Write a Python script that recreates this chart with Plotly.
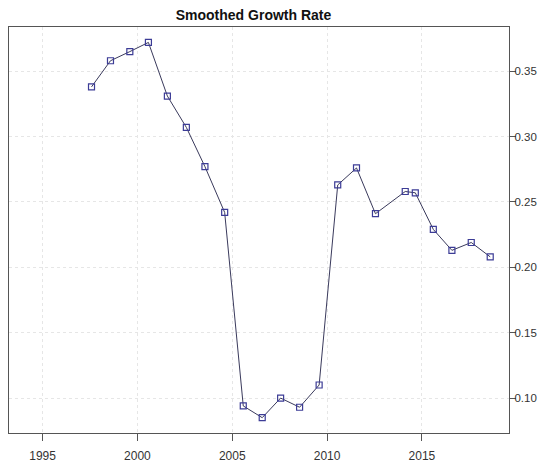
"""
Smoothed growth rate chart - R base-graphics look in plotly
"""
import plotly.graph_objects as go

# data
years = [1997.58, 1998.58, 1999.6, 2000.58, 2001.58, 2002.58, 2003.56, 2004.6,
         2005.58, 2006.58, 2007.55, 2008.55, 2009.58, 2010.56, 2011.55, 2012.55,
         2014.12, 2014.65, 2015.6, 2016.58, 2017.6, 2018.6]
growth = [0.338, 0.358, 0.365, 0.372, 0.331, 0.307, 0.277, 0.242,
          0.094, 0.085, 0.100, 0.093, 0.110, 0.263, 0.276, 0.241,
          0.258, 0.257, 0.229, 0.213, 0.219, 0.208]

x_ticks = [1995, 2000, 2005, 2010, 2015]
y_ticks = [0.10, 0.15, 0.20, 0.25, 0.30, 0.35]

fig = go.Figure()

fig.add_trace(go.Scatter(
    x=years,
    y=growth,
    mode='lines+markers',
    line=dict(color='#3a3a5c', width=1),
    marker=dict(symbol='square-open', size=6, color='#3c3c96',
                line=dict(width=1.2, color='#3c3c96')),
    showlegend=False
))

grid = dict(showgrid=True, gridcolor='#e6e6e6', griddash='dot', gridwidth=1)

# page body has an 8px margin, so the figure is a bit smaller than the window
fig.update_layout(
    width=542,
    height=455,
    margin=dict(l=0, r=41, t=19, b=28),
    paper_bgcolor='white',
    plot_bgcolor='white',
    font=dict(family='Liberation Sans, Arial, sans-serif', size=12, color='#333333'),
    title=dict(text='<b>Smoothed Growth Rate</b>', x=0.453, xanchor='center',
               y=1 - 7 / 455, yanchor='middle', yref='container',
               font=dict(size=14, color='#111111')),
    xaxis=dict(range=[1993.23, 2019.59], tickmode='array', tickvals=x_ticks,
               ticks='outside', ticklen=7, tickcolor='#555555',
               ticklabelstandoff=4,
               showline=True, mirror=True, linecolor='#555555', linewidth=1.2,
               zeroline=False, **grid),
    yaxis=dict(range=[0.0733, 0.3838], tickmode='array', tickvals=y_ticks,
               tickformat='.2f', side='right', ticks='outside', ticklen=6,
               tickcolor='#555555', ticklabelstandoff=-4,
               tickfont=dict(size=11.5),
               showline=True, mirror=True, linecolor='#555555', linewidth=1.2,
               zeroline=False, **grid),
)

fig.write_html("out.html")
